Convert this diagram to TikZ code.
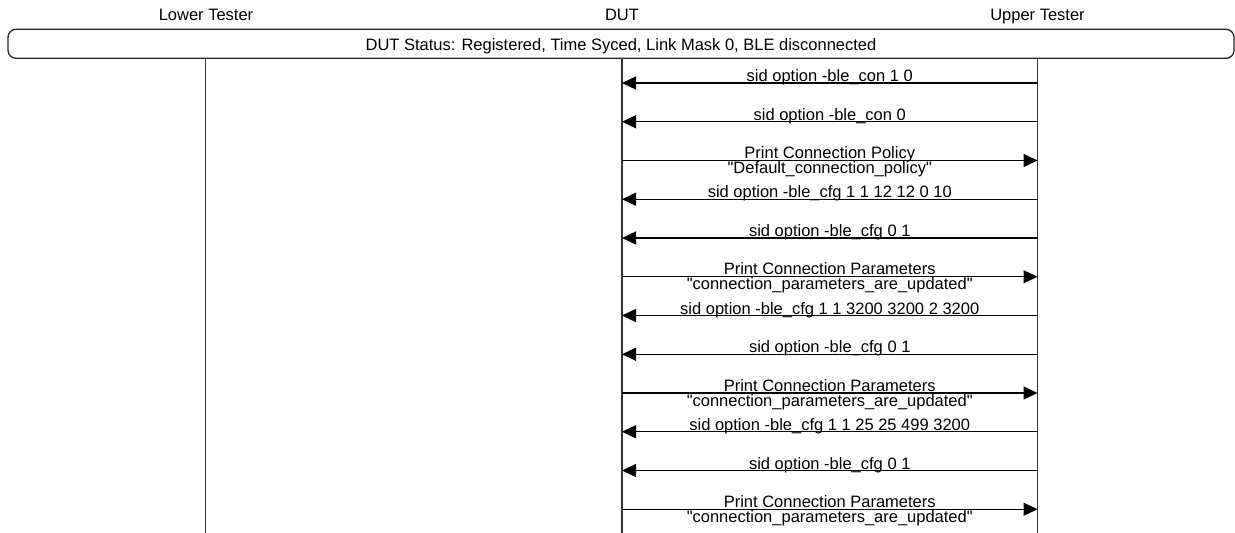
\documentclass[tikz,border=0pt]{standalone}
\usepackage{fontspec}
\setmainfont{Liberation Sans}[Ligatures=TeXOff]
\usetikzlibrary{arrows.meta}
\begin{document}
\begin{tikzpicture}[x=1pt,y=-1pt,
  every node/.style={font=\fontsize{16.5}{18}\selectfont, inner sep=0pt},
  lifeline/.style={draw=black!80, line width=1.8pt},
  msg/.style={draw=black, line width=1.3pt, -{Triangle[length=14pt,width=13pt]}},
  hdr/.style={anchor=base},
  lbl/.style={anchor=base},
  statusbox/.style={draw=black!85, line width=1.3pt, rounded corners=8pt,
    minimum width=1226pt, minimum height=29pt, text height=12.4pt, text depth=0pt}]
\useasboundingbox (0,0) rectangle (1235,533);

% instance headers
\node[hdr] (hLT) at (206,20.5) {Lower Tester};
\node[hdr] (hDUT) at (622,20.5) {DUT};
\node[hdr] (hUT) at (1037.5,20.5) {Upper Tester};

% status box spanning all instances
\node[statusbox] (status) at (621,43.8) {DUT Status: Registered, Time Syced, Link Mask 0, BLE disconnected};

% lifelines
\coordinate (ltTop) at (205.5,58.3);  \coordinate (ltBot) at (205.5,533);
\coordinate (dutTop) at (622,58.3);   \coordinate (dutBot) at (622,533);
\coordinate (utTop) at (1037.5,58.3); \coordinate (utBot) at (1037.5,533);
\draw[lifeline] (ltTop) -- (ltBot);
\draw[lifeline] (dutTop) -- (dutBot);
\draw[lifeline] (utTop) -- (utBot);

% commands from the upper tester to the DUT
\foreach \i/\txt in {
  1/{sid option -ble\_con 1 0},
  2/{sid option -ble\_con 0},
  4/{sid option -ble\_cfg 1 1 12 12 0 10},
  5/{sid option -ble\_cfg 0 1},
  7/{sid option -ble\_cfg 1 1 3200 3200 2 3200},
  8/{sid option -ble\_cfg 0 1},
  10/{sid option -ble\_cfg 1 1 25 25 499 3200},
  11/{sid option -ble\_cfg 0 1}}{
  \pgfmathsetmacro\yy{83+38.75*(\i-1)}
  \coordinate (d\i) at (622,\yy);
  \coordinate (u\i) at (1037.5,\yy);
  \draw[msg] (u\i) -- (d\i);
  \node[lbl] (m\i) at (829.75,\yy-1.5) {\txt};
}

% responses printed by the DUT
\foreach \i/\txta/\txtb in {
  3/{Print Connection Policy}/{"Default\_connection\_policy"},
  6/{Print Connection Parameters}/{"connection\_parameters\_are\_updated"},
  9/{Print Connection Parameters}/{"connection\_parameters\_are\_updated"},
  12/{Print Connection Parameters}/{"connection\_parameters\_are\_updated"}}{
  \pgfmathsetmacro\yy{83+38.75*(\i-1)}
  \coordinate (d\i) at (622,\yy);
  \coordinate (u\i) at (1037.5,\yy);
  \draw[msg] (d\i) -- (u\i);
  \node[lbl] (m\i) at (829.75,\yy-2) {\txta};
  \node[lbl] (n\i) at (829.75,\yy+13) {\txtb};
}
\end{tikzpicture}
\end{document}
